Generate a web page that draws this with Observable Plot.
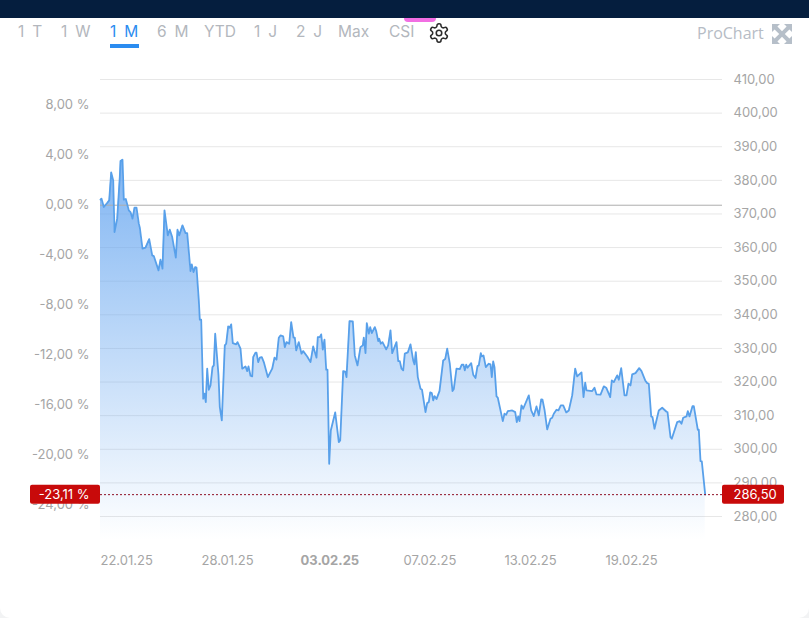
<!DOCTYPE html>
<html lang="de">
<head>
<meta charset="utf-8">
<script src="https://cdn.jsdelivr.net/npm/d3@7"></script>
<script src="https://cdn.jsdelivr.net/npm/@observablehq/plot@0.6"></script>
<style>
html,body{margin:0;padding:0;background:#f2f3f4;width:809px;height:618px;overflow:hidden;font-family:Inter,sans-serif}
#card{position:absolute;left:0;top:0;width:809px;height:618px;background:#fff;border-radius:0 0 10px 10px;overflow:hidden}
#bar{position:absolute;left:0;top:0;width:809px;height:18px;background:#051e3e}
#pink{position:absolute;left:404px;top:18px;width:32px;height:4px;background:#f26fe3;border-radius:0 0 8px 8px}
.tab{position:absolute;top:22px;font-size:15.5px;line-height:20px;color:#b3b7bd;white-space:nowrap;word-spacing:3.5px}
.tab.on{color:#2b8cf0}
#line{position:absolute;left:110px;top:44px;width:29px;height:4px;background:#2b8cf0}
#gear{position:absolute;left:428px;top:22px}
#pro{position:absolute;left:697px;top:23px;font-size:16px;line-height:20px;color:#b6bcc5;font-family:"Open Sans",Inter,sans-serif}
#exp{position:absolute;left:771px;top:23px}
#chart{position:absolute;left:0;top:0}
</style>
</head>
<body>
<div id="card">
  <div id="chart"></div>
  <div id="bar"></div><div id="pink"></div>
  <div id="tabs"></div>
  <div id="line"></div>
  <svg id="gear" width="22" height="22" viewBox="0 0 24 24" fill="none" stroke="#2c2c2c" stroke-width="1.7"><path d="M12.22 2h-.44a2 2 0 0 0-2 2v.18a2 2 0 0 1-1 1.73l-.43.25a2 2 0 0 1-2 0l-.15-.08a2 2 0 0 0-2.73.73l-.22.38a2 2 0 0 0 .73 2.73l.15.1a2 2 0 0 1 1 1.72v.51a2 2 0 0 1-1 1.74l-.15.09a2 2 0 0 0-.73 2.73l.22.38a2 2 0 0 0 2.73.73l.15-.08a2 2 0 0 1 2 0l.43.25a2 2 0 0 1 1 1.73V20a2 2 0 0 0 2 2h.44a2 2 0 0 0 2-2v-.18a2 2 0 0 1 1-1.73l.43-.25a2 2 0 0 1 2 0l.15.08a2 2 0 0 0 2.73-.73l.22-.39a2 2 0 0 0-.73-2.73l-.15-.08a2 2 0 0 1-1-1.74v-.5a2 2 0 0 1 1-1.74l.15-.09a2 2 0 0 0 .73-2.73l-.22-.38a2 2 0 0 0-2.73-.73l-.15.08a2 2 0 0 1-2 0l-.43-.25a2 2 0 0 1-1-1.73V4a2 2 0 0 0-2-2z"/><circle cx="12" cy="12" r="3"/></svg>
  <div id="pro">ProChart</div>
  <svg id="exp" width="22" height="22" viewBox="0 0 22 22" fill="#b6bfc9" stroke="none"><path d="M1 1h8l-2.6 2.6L11 8.2l4.6-4.6L13 1h8v8l-2.6-2.6L13.8 11l4.6 4.6L21 13v8h-8l2.6-2.6L11 13.8l-4.6 4.6L9 21H1v-8l2.6 2.6L8.2 11 3.6 6.4 1 9z"/></svg>
</div>
<script>
const rangeTabs = [["1 T",18],["1 W",61],["1 M",110],["6 M",157],["YTD",204],["1 J",254],["2 J",296],["Max",338],["CSI",389]];
const activeTab = "1 M";

const dateLabels = ["22.01.25","28.01.25","03.02.25","07.02.25","13.02.25","19.02.25"];
const boldDate = "03.02.25";
const dateTicks = [20,2040,4060,6080,8100,10120];

const priceTicks = [280,290,300,310,320,330,340,350,360,370,380,390,400,410];
const percentTicks = [8,4,0,-4,-8,-12,-16,-20,-24];

const basePrice = 372.6;
const lastPrice = 286.5;
const lastPercent = "-23,11 %";
const lastPriceLabel = "286,50";
const floorPrice = 272.9;

const sessionMinutes = [0,20,66,134,174,214,254,280,334,386,400,440,466,506,566,600,640,680,720,766,786,840,900,974,1034,1066,1160,1200,1240,1280,1346,1386,1434,1506,1540,1574,1640,1700,1734,1800,1826,1860,1894,1920,1966,1986,2014,2054,2080,2106,2134,2166,2200,2240,2266,2294,2360,2386,2426,2486,2514,2554,2586,2614,2646,2714,2740,2800,2834,2900,2934,2960,3000,3034,3054,3100,3120,3154,3186,3226,3266,3346,3434,3480,3520,3566,3600,3654,3686,3720,3774,3814,3860,3886,3914,3966,4020,4054,4134,4200,4254,4320,4346,4386,4414,4446,4480,4514,4540,4574,4606,4694,4766,4794,4854,4894,4920,4980,5046,5086,5140,5200,5246,5266,5300,5326,5366,5394,5426,5486,5514,5554,5574,5606,5640,5714,5754,5800,5834,5920,5954,5986,6020,6054,6086,6146,6200,6254,6280,6306,6346,6400,6430,6500,6534,6566,6594,6626,6654,6680,6720,6780,6854,6894,6934,6986,7040,7066,7120,7186,7226,7260,7286,7314,7340,7414,7454,7500,7540,7566,7606,7626,7660,7706,7766,7800,7826,7854,7880,7920,7946,8046,8080,8114,8146,8234,8294,8326,8354,8380,8420,8454,8566,8614,8666,8720,8766,8814,8840,8880,8934,9000,9034,9066,9120,9160,9206,9254,9314,9366,9434,9494,9534,9620,9660,9694,9720,9834,9880,9920,10000,10066,10114,10194,10226,10266,10334,10366,10414,10480,10520,10560,10600,10634,10700,10774,10820,10894,10934,10966,11014,11040,11080,11166,11234,11320,11340,11400,11426,11534,11586,11620,11654,11720,11746,11780,11840,11866,11946,11966,12000,12026,12094];

const prices = [374.26,374.56,372.06,373.25,374.05,382.38,380.0,364.62,368.6,380.98,385.75,386.16,374.26,374.44,371.07,370.57,368.6,371.88,371.88,367.12,365.93,359.68,359.97,362.53,357.68,357.47,353.22,356.4,353.72,371.07,363.63,365.33,363.13,357.0,365.33,363.63,366.61,364.32,364.32,353.01,355.0,352.71,354.2,354.02,344.29,338.55,338.55,315.04,316.52,314.02,323.97,317.71,318.99,324.44,324.95,334.38,321.97,312.54,308.58,330.9,331.4,336.55,336.17,337.15,331.58,331.2,331.88,329.92,323.97,324.65,323.25,324.65,321.88,321.67,327.42,328.73,328.73,325.93,327.24,327.42,325.93,321.47,323.97,327.24,326.64,333.19,333.87,333.58,330.39,331.88,331.4,337.83,333.19,333.19,329.41,331.88,328.43,329.2,327.62,325.93,330.6,327.24,333.37,333.37,334.17,329.62,332.59,323.67,323.67,295.69,305.6,310.96,302.12,302.63,323.25,323.07,321.47,338.13,338.04,327.92,324.95,330.39,330.9,333.19,328.61,337.53,334.38,336.34,334.56,336.34,335.15,332.18,332.89,331.4,331.88,329.71,330.9,335.36,328.61,331.88,326.23,326.23,323.97,323.46,328.43,328.81,331.2,326.43,325.24,328.9,321.47,318.01,317.71,311.05,313.73,314.02,316.91,316.7,314.53,315.81,314.92,317.3,326.43,326.82,329.92,325.45,317.3,317.89,323.97,323.85,325.15,325.15,323.46,325.15,324.26,325.63,322.18,321.17,324.74,324.95,328.61,327.62,327.92,324.44,325.45,325.24,321.47,326.14,324.44,315.72,315.33,308.37,310.57,310.27,311.35,311.55,311.05,308.07,309.77,308.37,313.04,312.06,316.02,311.55,309.86,312.74,310.07,314.83,314.74,311.76,305.9,309.08,309.38,310.57,311.76,311.55,313.04,313.04,310.96,311.55,316.02,323.97,321.67,322.86,315.51,319.8,317.51,317.3,318.31,316.32,316.23,318.7,318.31,315.51,320.48,319.98,321.97,320.69,324.14,316.02,316.02,319.5,318.99,322.27,322.65,324.14,323.25,320.48,319.68,319.5,309.77,309.56,306.11,311.55,312.36,311.17,311.05,303.61,303.13,308.07,308.37,307.6,309.38,309.77,311.35,309.77,312.83,312.83,305.81,305.81,296.47,296.38,286.5];

const series = sessionMinutes.map((t, i) => ({t, price: prices[i]}));
const percentRows = percentTicks.map(p => ({
  price: basePrice * (1 + p / 100),
  label: p.toFixed(2).replace(".", ",") + " %"
}));
const priceRows = priceTicks.map(p => ({price: p, label: p.toFixed(2).replace(".", ",")}));
const dateRows = dateLabels.map((label, i) => ({t: dateTicks[i], label}));

const tabHost = document.getElementById("tabs");
for (const [name, left] of rangeTabs) {
  const el = document.createElement("div");
  el.className = "tab" + (name === activeTab ? " on" : "");
  el.style.left = left + "px";
  el.textContent = name;
  tabHost.appendChild(el);
}

const gradient = () => {
  const defs = d3.create("svg:defs");
  const g = defs.append("linearGradient").attr("id", "fade").attr("x1", 0).attr("x2", 0).attr("y1", 0).attr("y2", 1);
  g.append("stop").attr("offset", "0%").attr("stop-color", "#6aa8f0").attr("stop-opacity", 0.85);
  g.append("stop").attr("offset", "100%").attr("stop-color", "#6aa8f0").attr("stop-opacity", 0);
  return defs.node();
};

const xMax = 12440, tagLeft = -1400, tagRight = 13680;
const grey = "#a5a5a5", red = "#c80a0a";

const chart = Plot.plot({
  width: 809, height: 618,
  marginLeft: 100, marginRight: 87, marginTop: 79, marginBottom: 102,
  x: {domain: [0, xMax], axis: null},
  y: {domain: [280, 410], axis: null},
  style: {fontFamily: "Inter, sans-serif", fontSize: "13px", background: "transparent", overflow: "visible"},
  marks: [
    gradient,
    Plot.ruleY(priceTicks, {stroke: "#e7e7e7", strokeWidth: 1}),
    Plot.areaY(series, {x: "t", y1: floorPrice, y2: "price", fill: "url(#fade)"}),
    Plot.ruleY([basePrice], {stroke: "#aeaeae", strokeWidth: 1}),
    Plot.lineY(series, {x: "t", y: "price", stroke: "#58a0ea", strokeWidth: 1.8, curve: "linear"}),
    Plot.text(percentRows, {x: 0, y: "price", text: "label", textAnchor: "end", dx: -11, dy: -0.5, fill: grey}),
    Plot.text(priceRows, {x: xMax, y: "price", text: "label", textAnchor: "start", dx: 11, fill: grey}),
    Plot.text(dateRows.filter(d => d.label !== boldDate), {x: "t", y: floorPrice, text: "label", textAnchor: "start", dy: 20, dx: -1, fill: grey}),
    Plot.text(dateRows.filter(d => d.label === boldDate), {x: "t", y: floorPrice, text: "label", textAnchor: "start", dy: 20, dx: -3, fill: grey, fontWeight: 700}),
    Plot.ruleY([lastPrice], {stroke: "#8f1025", strokeWidth: 1, strokeDasharray: "2,2"}),
    Plot.rect([lastPrice], {x1: tagLeft, x2: 0, y1: d => d, y2: d => d, insetTop: -9.5, insetBottom: -9.5, fill: red, rx: 2}),
    Plot.rect([lastPrice], {x1: xMax, x2: tagRight, y1: d => d, y2: d => d, insetTop: -9.5, insetBottom: -9.5, fill: red, rx: 2}),
    Plot.text([lastPercent], {x: 0, y: lastPrice, text: d => d, textAnchor: "end", dx: -11, fill: "#fff"}),
    Plot.text([lastPriceLabel], {x: xMax, y: lastPrice, text: d => d, textAnchor: "start", dx: 11, fill: "#fff"})
  ]
});
document.getElementById("chart").appendChild(chart);
</script>
</body>
</html>
